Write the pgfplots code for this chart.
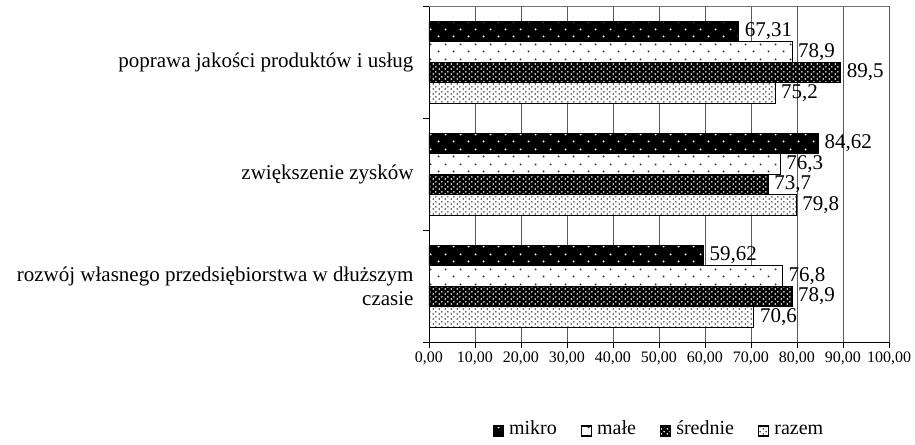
\documentclass[border=0pt]{standalone}
\usepackage{fontspec}
\setmainfont{Liberation Serif}
\usepackage{pgfplots}
\pgfplotsset{compat=1.18}
\usetikzlibrary{patterns.meta}

% sparse staggered dots
\tikzdeclarepattern{
  name=sparsedots, type=uncolored,
  bottom left={(0bp,0bp)}, top right={(15bp,15bp)},
  tile size={(15bp,15bp)},
  code={\tikzset{x=1bp,y=1bp}
    \fill (3.75,3.75) circle (1.1);
    \fill (11.25,11.25) circle (1.1);}
}
% dense staggered dots
\tikzdeclarepattern{
  name=densedots, type=uncolored,
  bottom left={(0bp,0bp)}, top right={(6bp,5bp)},
  tile size={(6bp,5bp)},
  code={\tikzset{x=1bp,y=1bp}
    \fill (1.5,1.25) circle (1.0);
    \fill (4.5,3.75) circle (1.0);}
}

\begin{document}
\begin{tikzpicture}
\begin{axis}[
  scale only axis, width=460bp, height=336bp,
  xbar, bar width=0.183,
  xmin=0, xmax=100, ymin=0.5, ymax=3.5,
  clip=false,
  axis x line*=bottom, axis y line*=left,
  axis line style={black, line width=0.9bp},
  tick align=outside, major tick length=6bp,
  tick style={black, line width=0.8bp},
  xtick={0,10,...,100},
  xticklabel style={font=\fontsize{16bp}{19bp}\selectfont,
    /pgf/number format/.cd, fixed, fixed zerofill, precision=2, use comma, assume math mode=true},
  ytick={0.5,1.5,2.5,3.5},
  y tick label as interval,
  yticklabels={{rozwój własnego przedsiębiorstwa w dłuższym\\czasie},{zwiększenie zysków},{poprawa jakości produktów i usług}},
  yticklabel style={align=right, font=\fontsize{21bp}{24bp}\selectfont, xshift=-6bp},
  xmajorgrids, grid style={black!65, line width=0.7bp},
  nodes near coords,
  nodes near coords align={horizontal},
  nodes near coords style={font=\fontsize{21bp}{24bp}\selectfont, inner sep=2bp, xshift=4bp,
    /pgf/number format/.cd, use comma, precision=2, assume math mode=true},
  legend style={at={(0.5,-0.268)}, anchor=center, draw=none, legend columns=-1,
    font=\fontsize{20bp}{24bp}\selectfont,
    nodes={text height=0.75em, text depth=0.25em},
    /tikz/every odd column/.append style={column sep=3bp},
    /tikz/every even column/.append style={column sep=22bp}},
  legend image code/.code={\draw[#1, line width=1.3bp] (0bp,-4bp) rectangle (10bp,6bp);},
]
\addplot[draw=black, line width=0.6bp, fill=black,
  postaction={pattern=sparsedots, pattern color=white}, bar shift=0.2745]
  coordinates {(59.62,1) (84.62,2) (67.31,3)};
\addplot[draw=black, line width=0.6bp, fill=white,
  postaction={pattern=sparsedots, pattern color=black!80}, bar shift=0.0915]
  coordinates {(76.8,1) (76.3,2) (78.9,3)};
\addplot[draw=black, line width=0.6bp, fill=black,
  postaction={pattern=densedots, pattern color=white}, bar shift=-0.0915]
  coordinates {(78.9,1) (73.7,2) (89.5,3)};
\addplot[draw=black, line width=0.6bp, fill=white,
  postaction={pattern=densedots, pattern color=black!75}, bar shift=-0.2745]
  coordinates {(70.6,1) (79.8,2) (75.2,3)};
\legend{mikro, małe, średnie, razem}
\draw[black!55, line width=0.8bp] (rel axis cs:0,1) -- (rel axis cs:1,1);
\end{axis}
\pgfresetboundingbox
\path[use as bounding box] (-429bp,-103bp) rectangle (486bp,342bp);
\end{tikzpicture}
\end{document}
